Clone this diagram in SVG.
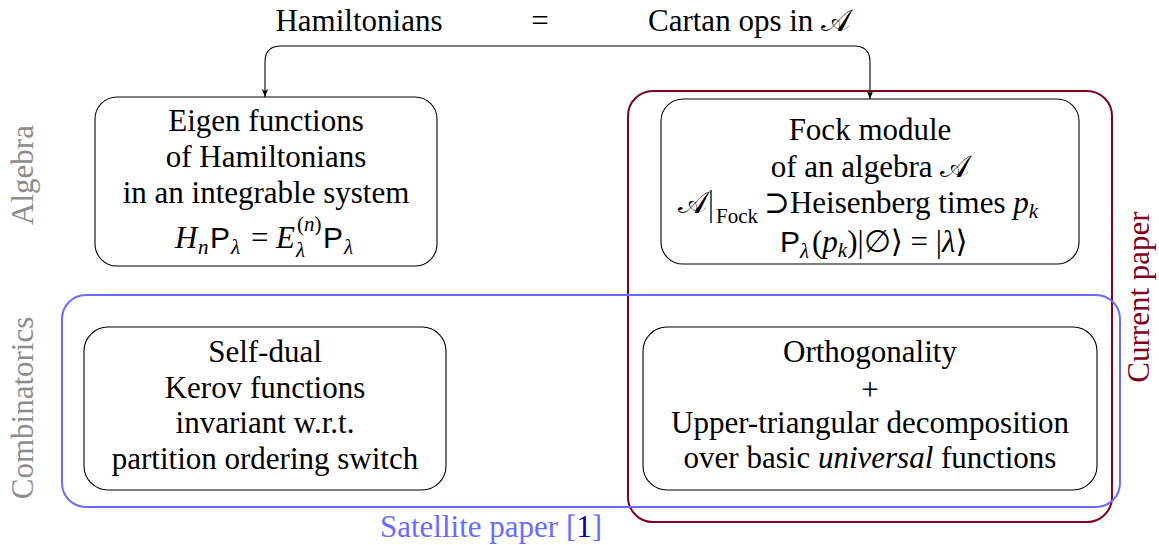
<svg xmlns="http://www.w3.org/2000/svg" width="1159" height="545" viewBox="0 0 1159 545" font-family="'Liberation Serif', serif">
<style>
text{font-family:"Liberation Serif","DejaVu Serif",serif;font-size:31px;fill:#000;text-anchor:middle}
.m{text-anchor:start}
.node{fill:#fff;stroke:#000;stroke-width:1.1}
.sf{font-family:"Liberation Sans","DejaVu Sans",sans-serif;font-size:30px}
.it{font-style:italic}
.s{font-size:21px}
.gray{fill:#8c8c8c}
.red{fill:#800020}
.blue{fill:#6b6bff}
.conn{fill:none;stroke:#000;stroke-width:1.1}
</style>
<defs>
<marker id="ah" viewBox="0 0 10 10" refX="10" refY="5" markerWidth="8" markerHeight="8" orient="auto-start-reverse" markerUnits="userSpaceOnUse">
<path d="M0,1 L10,5 L0,9 L2.5,5 Z" fill="#000"/>
</marker>
</defs>
<rect width="1159" height="545" fill="#fff"/>

<g id="title">
<text x="359" y="31">Hamiltonians</text>
<text x="540" y="31">=</text>
<text class="m" x="648" y="31">Cartan ops in 𝒜</text>
</g>

<g id="current-paper">
<rect x="628" y="91" width="484" height="431" rx="25" fill="none" stroke="#800020" stroke-width="2"/>
<text x="1149" y="297" transform="rotate(-90 1149 297)" class="red">Current paper</text>
</g>

<g id="satellite-paper">
<rect x="62" y="295" width="1058" height="212" rx="24" fill="none" stroke="#6b6bff" stroke-width="2"/>
<text x="491" y="537" class="blue">Satellite paper [<tspan style="fill:#0000b3">1</tspan>]</text>
</g>

<g id="label-algebra">
<text x="33" y="175" transform="rotate(-90 33 175)" class="gray">Algebra</text>
</g>
<g id="label-combinatorics">
<text x="33" y="408" transform="rotate(-90 33 408)" class="gray">Combinatorics</text>
</g>

<g id="connectors">
<path class="conn" d="M265,97 V62 Q265,46 281,46 H854 Q870,46 870,62 V99" marker-start="url(#ah)" marker-end="url(#ah)"/>
</g>

<g id="eigen">
<rect class="node" x="95" y="97" width="342" height="169" rx="22"/>
<text x="266" y="131">Eigen functions</text>
<text x="266" y="167">of Hamiltonians</text>
<text x="266" y="203">in an integrable system</text>
<text class="m it" x="175" y="248">H</text>
<text class="m it s" x="198" y="254">n</text>
<text class="m sf" x="210" y="248">P</text>
<text class="m it s" x="231" y="254">λ</text>
<text class="m" x="251" y="248">=</text>
<text class="m it" x="276" y="248">E</text>
<text class="m s" x="297" y="231">(<tspan class="it">n</tspan>)</text>
<text class="m it s" x="296" y="257">λ</text>
<text class="m sf" x="323" y="248">P</text>
<text class="m it s" x="344" y="254">λ</text>
</g>

<g id="fock">
<rect class="node" x="661" y="99" width="418" height="165" rx="22"/>
<text x="870" y="140">Fock module</text>
<text x="870" y="177">of an algebra 𝒜</text>
<text class="m" x="678" y="213">𝒜</text>
<line x1="711" y1="190" x2="711" y2="223" stroke="#000" stroke-width="1.3"/>
<text class="m s" x="716" y="223">Fock</text>
<text class="m" x="764" y="213">⊃Heisenberg times <tspan class="it">p</tspan><tspan class="it s" dy="5">k</tspan></text>
<text class="m sf" x="780" y="252">P</text>
<text class="m it s" x="800" y="258">λ</text>
<text class="m" x="812" y="252">(<tspan class="it">p</tspan><tspan class="it s" dy="5">k</tspan><tspan dy="-5">)|∅⟩ = |</tspan><tspan class="it">λ</tspan>⟩</text>
</g>

<g id="kerov">
<rect class="node" x="84" y="327" width="362" height="163" rx="24"/>
<text x="265" y="362">Self-dual</text>
<text x="265" y="398">Kerov functions</text>
<text x="265" y="433">invariant w.r.t.</text>
<text x="265" y="469">partition ordering switch</text>
</g>

<g id="orthogonality">
<rect class="node" x="643" y="327" width="454" height="163" rx="24"/>
<text x="870" y="362">Orthogonality</text>
<text x="870" y="400">+</text>
<text x="870" y="433">Upper-triangular decomposition</text>
<text x="870" y="468">over basic <tspan class="it">universal</tspan> functions</text>
</g>
</svg>
